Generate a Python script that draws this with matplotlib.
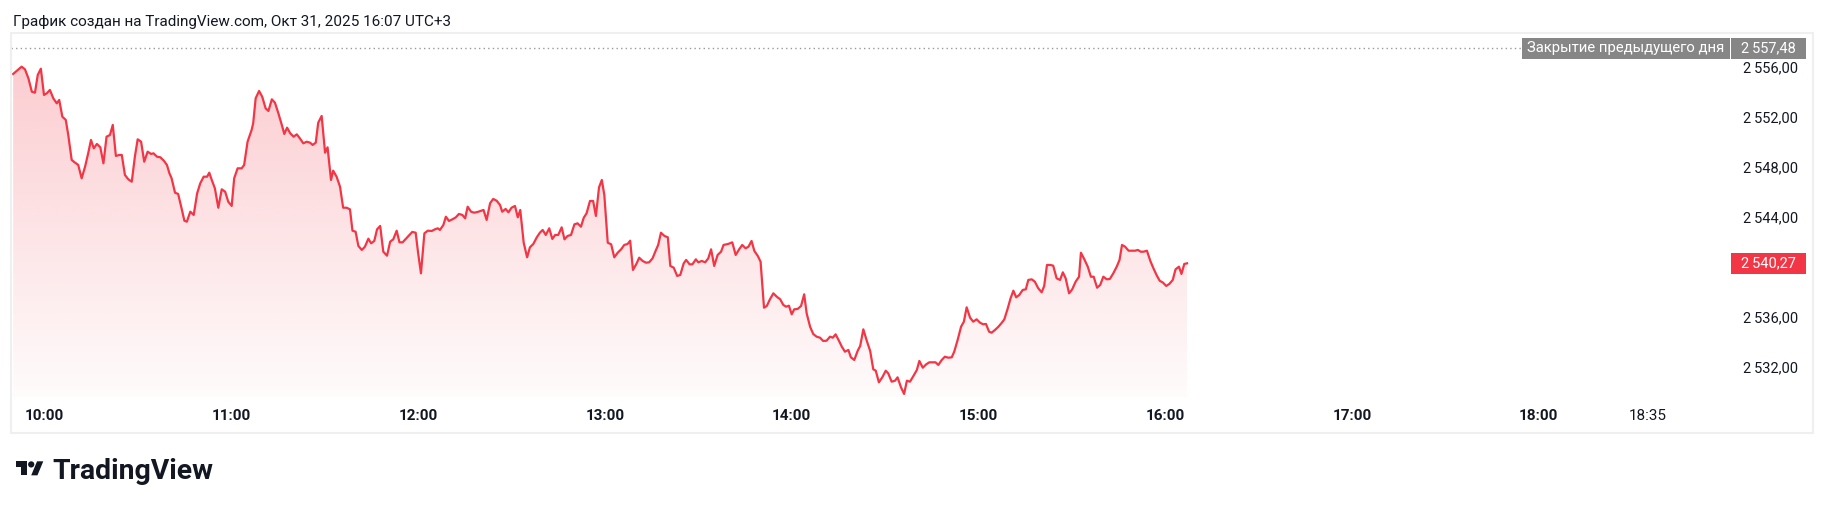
import numpy as np
import matplotlib
matplotlib.use('Agg')
import matplotlib.pyplot as plt
import matplotlib.transforms as mtransforms
from matplotlib.colors import to_rgb
from matplotlib.patches import Rectangle, Circle, Polygon

plt.rcParams['font.family'] = ['Roboto', 'DejaVu Sans']

# minutes after 10:00, price
minutes = [
    -10.1, -8.4, -7.4, -6.3, -5.2, -4.1, -3.1, -2.2, -1.2, -0.2, 0.7, 1.7, 2.8, 3.9, 4.7, 5.7, 6.8, 7.6, 8.7, 9.8,
    10.8, 11.9, 13.0, 14.0, 14.9, 15.8, 16.8, 17.9, 18.9, 19.9, 21.0, 21.9, 22.9, 24.0, 24.8, 25.8, 26.9, 28.0, 29.0, 29.9,
    31.0, 32.0, 33.1, 34.2, 35.0, 36.1, 37.2, 38.3, 39.3, 40.1, 40.8, 41.9, 42.9, 44.0, 44.9, 45.7, 46.8, 47.9, 49.0, 50.0,
    51.1, 52.2, 52.9, 53.7, 54.7, 55.8, 56.9, 58.0, 59.0, 60.1, 60.9, 62.0, 63.3, 64.1,
    65.2, 66.5, 67.0, 67.8, 68.9, 69.9, 71.0, 71.9, 73.0, 74.0, 75.1, 76.2, 77.0, 77.9, 78.9, 80.0, 81.0, 82.0, 83.1, 84.2,
    85.3, 86.1, 87.1, 87.9, 89.0, 90.1, 90.9, 92.0, 92.7, 93.8, 94.9, 95.9, 97.0, 98.1, 98.9, 99.9, 100.8, 101.9, 102.9, 104.0,
    104.9, 105.9, 106.8, 107.8, 108.8, 110.0, 111.0, 112.0, 113.1, 114.0, 115.0, 116.1, 117.2, 118.1, 119.2, 120.0, 120.9, 122.0,
    123.1, 124.4, 125.4, 126.3, 127.0, 128.1, 128.9, 129.9, 131.0, 132.1, 133.1, 134.2, 135.1, 135.9, 137.0, 138.0, 139.1, 140.0, 141.0,
    142.0, 143.1, 144.1, 145.2, 146.3, 147.0, 148.1, 149.0, 150.0, 151.1, 152.0, 152.8, 153.9, 155.0, 155.9, 157.0, 158.1, 159.1,
    160.0, 161.0, 162.1, 163.1, 164.0, 165.0, 166.1, 167.0, 168.0, 169.1, 170.2, 171.2, 172.3, 173.2, 174.1, 175.2, 176.2, 177.1,
    178.1, 179.0, 179.8, 180.9, 182.0, 183.0, 184.1, 185.2, 186.2, 187.3, 188.1, 189.0, 190.1, 191.0, 192.1, 193.2, 194.2, 195.3,
    196.4, 197.1, 198.0, 199.1, 200.2, 201.0, 202.1, 203.2, 204.2, 205.3, 206.1, 207.2, 208.1, 209.2, 210.0, 211.1, 212.2, 213.2,
    214.1, 215.1, 216.2, 217.3, 218.1,
    219.6, 220.9, 222.0, 223.1, 224.1, 225.2, 226.1, 227.1, 228.0, 229.1, 230.0, 231.1, 232.0, 233.0, 234.1, 235.2, 236.3, 237.3,
    238.2, 239.1, 240.0, 240.8, 241.9, 243.0, 244.0, 244.8, 245.9, 246.9, 248.0, 249.1, 250.1, 251.2, 252.3, 253.2, 254.1, 255.2,
    256.1, 257.1, 258.2, 259.0, 260.1, 261.2, 262.0, 263.0, 264.1, 265.2, 266.2, 267.0, 268.0, 269.1, 270.2, 271.0, 272.1, 273.2,
    274.0, 275.1, 276.1, 277.0, 278.0, 279.1, 280.2, 281.0, 282.1, 283.2, 284.2, 285.3, 286.2, 287.1, 288.2, 289.2, 290.3, 291.4,
    292.2, 293.3, 294.4, 295.3,
    296.2, 297.3, 298.3, 299.4, 300.5, 301.5, 302.4, 303.4, 304.2, 305.3, 306.4, 307.5, 308.3, 309.4, 310.3, 311.2, 312.1, 313.1,
    314.2, 315.2, 316.0, 317.1, 318.1, 319.2, 320.3, 321.1, 322.0, 323.1, 324.0, 325.1, 326.2, 327.1, 328.0, 329.1, 330.1, 331.2,
    332.3, 332.9, 334.0, 335.1, 336.1, 337.0, 338.1, 339.1, 340.1, 341.2, 342.2, 343.3, 344.4, 345.3, 346.1, 347.1, 348.2, 349.3,
    350.3, 351.2, 352.1, 353.0, 354.1, 355.2, 356.2, 357.3, 358.2, 359.3, 360.3, 361.3, 362.4, 363.3, 364.4, 365.2, 366.1, 367.0,
]
prices = [
    2555.42, 2555.79, 2556.00, 2555.79, 2555.07, 2554.00, 2553.92, 2555.34, 2555.84, 2553.74, 2553.87, 2554.14, 2553.47, 2553.07, 2553.34, 2552.00, 2551.74, 2550.54, 2548.54, 2548.32,
    2548.14, 2547.07, 2548.00, 2549.07, 2550.14, 2549.47, 2549.82, 2549.55, 2548.27, 2550.40, 2550.54, 2551.34, 2548.86, 2548.94, 2548.94, 2547.34, 2546.99, 2546.80, 2548.80, 2550.19,
    2550.00, 2548.40, 2549.20, 2549.02, 2549.07, 2548.80, 2548.75, 2548.48, 2548.14, 2547.47, 2547.07, 2545.92, 2545.82, 2544.67, 2543.68, 2543.60, 2544.40, 2544.14, 2545.87, 2546.67,
    2547.20, 2547.20, 2547.52, 2546.94, 2546.27, 2544.72, 2546.19, 2546.00, 2545.20, 2544.86, 2547.07, 2547.87, 2547.87, 2548.14,
    2550.00, 2550.94, 2551.47, 2553.47, 2554.06, 2553.60, 2552.67, 2552.46, 2553.39, 2553.12, 2552.27, 2551.34, 2550.62, 2551.12, 2550.67, 2550.40, 2550.59, 2550.27, 2549.87, 2550.00,
    2549.92, 2549.74, 2549.92, 2551.52, 2552.06, 2549.12, 2549.55, 2546.94, 2547.68, 2547.20, 2546.40, 2544.72, 2544.72, 2544.59, 2542.88, 2542.80, 2541.66, 2541.34, 2541.60, 2542.24,
    2541.87, 2542.06, 2542.99, 2543.26, 2541.20, 2540.88, 2542.00, 2542.19, 2542.88, 2541.95, 2541.95, 2542.24, 2542.54, 2542.78, 2542.72, 2541.07, 2539.47, 2542.67,
    2542.88, 2542.86, 2542.99, 2543.07, 2542.94, 2543.34, 2544.00, 2543.66, 2543.79, 2543.95, 2544.22, 2544.14, 2543.87, 2544.80, 2544.40, 2544.32, 2544.38, 2544.46, 2544.54,
    2543.74, 2545.07, 2545.42, 2545.28, 2544.94, 2544.40, 2544.62, 2544.35, 2544.72, 2544.86, 2543.95, 2544.54, 2541.92, 2540.75, 2541.55, 2541.82, 2542.35, 2542.72,
    2542.94, 2542.54, 2543.07, 2542.22, 2542.54, 2542.54, 2543.15, 2542.19, 2542.46, 2542.54, 2543.39, 2543.47, 2543.20, 2543.92, 2544.27, 2545.26, 2545.26, 2544.06,
    2546.35, 2546.94, 2545.74, 2541.92, 2541.79, 2540.75, 2541.12, 2541.39, 2541.74, 2541.82, 2542.08, 2539.74, 2540.22, 2540.72, 2540.46, 2540.32, 2540.35, 2540.67,
    2541.34, 2541.74, 2542.72, 2542.46, 2542.35, 2540.06, 2539.92, 2539.26, 2539.34, 2540.27, 2540.54, 2540.19, 2540.19, 2540.59, 2540.35, 2540.46, 2540.35, 2540.67,
    2541.39, 2540.06, 2540.94, 2541.20, 2541.74,
    2541.82, 2541.95, 2540.94, 2541.39, 2541.74, 2541.47, 2541.60, 2542.06, 2541.26, 2540.86, 2540.40, 2536.72, 2536.86, 2537.39, 2537.87, 2537.60, 2537.39, 2536.94,
    2536.80, 2536.88, 2536.19, 2536.59, 2536.62, 2536.86, 2537.79, 2536.27, 2535.20, 2534.62, 2534.40, 2534.32, 2534.06, 2534.08, 2534.40, 2534.32, 2534.59, 2534.06,
    2533.60, 2533.20, 2533.34, 2532.75, 2532.54, 2533.28, 2533.66, 2534.99, 2534.08, 2533.26, 2531.79, 2531.68, 2530.75, 2531.15, 2531.68, 2531.47, 2530.80, 2530.88,
    2531.15, 2530.35, 2529.82, 2530.88, 2530.80, 2531.26, 2531.74, 2532.46, 2531.92, 2532.19, 2532.35, 2532.35, 2532.35, 2532.14, 2532.54, 2532.80, 2532.72, 2532.75,
    2533.20, 2534.14, 2535.20, 2535.60,
    2536.75, 2535.92, 2535.60, 2535.79, 2535.52, 2535.39, 2535.42, 2534.80, 2534.72, 2534.94, 2535.20, 2535.52, 2535.79, 2536.67, 2537.47, 2538.08, 2537.55, 2537.74,
    2538.14, 2538.19, 2538.94, 2538.99, 2538.80, 2538.27, 2537.95, 2538.46, 2540.14, 2540.14, 2540.08, 2539.07, 2538.94, 2539.55, 2539.07, 2537.87, 2538.19, 2538.80,
    2539.20, 2541.12, 2540.59, 2540.00, 2539.20, 2539.20, 2538.32, 2538.54, 2539.20, 2538.99, 2539.02, 2539.47, 2540.00, 2540.54, 2541.74, 2541.60, 2541.28, 2541.28,
    2541.28, 2541.34, 2541.20, 2541.20, 2541.28, 2540.46, 2539.87, 2539.28, 2538.88, 2538.72, 2538.46, 2538.62, 2538.94, 2539.79, 2540.00, 2539.42, 2540.22, 2540.27,
]

prev_close = 2557.48
price_ticks = [2532, 2536, 2544, 2548, 2552, 2556]
time_ticks = [0, 60, 120, 180, 240, 300, 360, 420, 480, 515]
time_labels = ['10:00', '11:00', '12:00', '13:00', '14:00', '15:00', '16:00', '17:00', '18:00', '18:35']
title = 'График создан на TradingView.com, Окт 31, 2025 16:07 UTC+3'
prev_label = 'Закрытие предыдущего дня'

RED = '#f23645'
GRAY = '#868686'
INK = '#131722'


def fmt_price(v):
    s = f'{v:,.2f}'
    return s.replace(',', '\u2009').replace('.', ',')


W, H = 1826, 509
fig = plt.figure(figsize=(W / 100, H / 100), dpi=100)
fig.patch.set_facecolor('white')

# price pane in pixels: left 11, right 1730, top 33, bottom 397
L, R, T, B = 11, 1730, 33, 397
ax = fig.add_axes([L / W, 1 - B / H, (R - L) / W, (B - T) / H])

ax.plot(minutes, prices, color=RED, lw=1.6, solid_joinstyle='round', zorder=3)

# calibration: 10:00 at x=44.6px, 3.113 px/min; 2556 at y=66.7px, 12.5 px/point
x0, ppm = 44.6, 3.113
y0, ppu = 66.7, 12.5
xlim = ((L - x0) / ppm, (R - x0) / ppm)
ylim = (2556 - (B - y0) / ppu, 2556 + (y0 - T) / ppu)

poly = ax.fill_between(minutes, prices, ylim[0], color='none', lw=0)
grad = np.zeros((256, 1, 4))
grad[..., :3] = to_rgb(RED)
grad[:, 0, 3] = np.linspace(0.02, 0.25, 256)
img = ax.imshow(grad, extent=[minutes[0], minutes[-1], ylim[0], max(prices)],
                origin='lower', aspect='auto', interpolation='bilinear', zorder=1)
img.set_clip_path(poly.get_paths()[0], transform=ax.transData)

ax.set_xlim(*xlim)
ax.set_ylim(*ylim)

ax.axhline(prev_close, xmin=0, xmax=(1522 - L) / (R - L), color='#9a9a9a', lw=1, ls=(0, (1, 2.3)))

ax.set_xticks(time_ticks)
ax.set_xticklabels(time_labels)
for lab in ax.get_xticklabels():
    if lab.get_text().endswith(':00'):
        lab.set_fontweight('bold')
ax.tick_params(axis='x', length=0, pad=9, labelsize=11, labelcolor=INK)

ax.yaxis.tick_right()
ax.set_yticks(price_ticks)
ax.set_yticklabels([fmt_price(v) for v in price_ticks])
for lab in ax.get_yticklabels():
    lab.set_horizontalalignment('right')
ax.tick_params(axis='y', length=0, pad=49, labelsize=10.5, labelcolor=INK)

for s in ax.spines.values():
    s.set_visible(False)

# overlay in figure pixels for frame, labels and logo
ov = fig.add_axes([0, 0, 1, 1])
ov.set_xlim(0, W)
ov.set_ylim(H, 0)
ov.axis('off')
ov.patch.set_alpha(0)

ov.add_patch(Rectangle((L, T), 1813 - L, 433 - T, fill=False, ec='#efefef', lw=1.5))
ov.text(13, 26, title, fontsize=11, color=INK, va='baseline', ha='left')

trans = mtransforms.blended_transform_factory(ov.transData, ax.transData)
bh = 21 / ppu
ov.add_patch(Rectangle((1522, prev_close - bh / 2), 208, bh, transform=trans, fc=GRAY, ec='none', clip_on=False))
ov.add_patch(Rectangle((1731, prev_close - bh / 2), 75, bh, transform=trans, fc=GRAY, ec='none', clip_on=False))
ov.text(1626, prev_close, prev_label, transform=trans, ha='center', va='center', color='white', fontsize=10.7)
ov.text(1768.5, prev_close, fmt_price(prev_close), transform=trans, ha='center', va='center', color='white', fontsize=10.5)

last = prices[-1]
ov.add_patch(Rectangle((1731, last - bh / 2), 75, bh, transform=trans, fc=RED, ec='none', clip_on=False))
ov.text(1768.5, last, fmt_price(last), transform=trans, ha='center', va='center', color='white', fontsize=10.5)

# TradingView logo, shapes from the 36x28 mark scaled into place
s, lx, ly = 0.78, 15.6, 461.3


def mark(pts):
    return [(lx + x * s, ly + (y - 4) * s) for x, y in pts]


ov.add_patch(Polygon(mark([(0, 4), (14, 4), (14, 22), (7, 22), (7, 11), (0, 11)]), closed=True, fc=INK, ec='none'))
ov.add_patch(Polygon(mark([(20, 22), (28, 22), (35.5, 4), (27.5, 4)]), closed=True, fc=INK, ec='none'))
cx, cy = mark([(20, 8)])[0]
ov.add_patch(Circle((cx, cy), 4 * s, fc=INK, ec='none'))
ov.text(52.5, 479.3, 'TradingView', fontsize=20.4, fontweight='bold', color=INK, va='baseline', ha='left')

fig.savefig('out.png', dpi=100, facecolor='white')
